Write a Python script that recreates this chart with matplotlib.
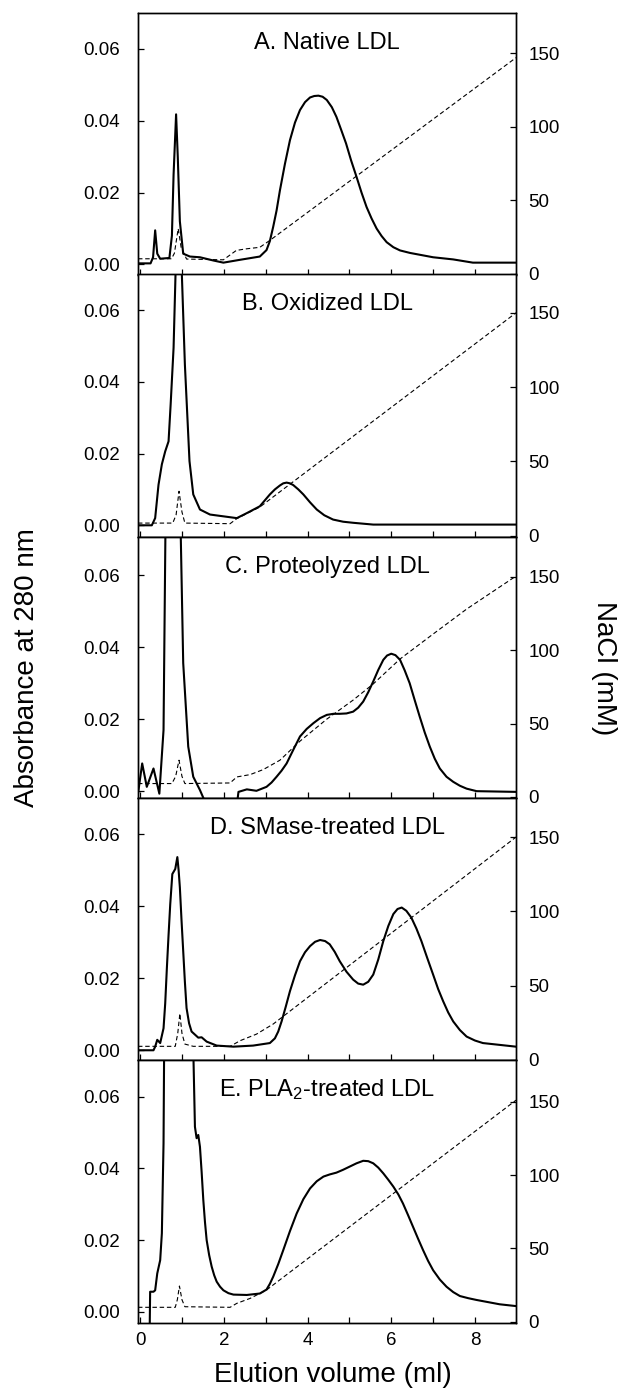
import matplotlib

matplotlib.use("Agg")
import matplotlib.pyplot as plt
from matplotlib.ticker import MultipleLocator

plt.rcParams["font.family"] = ["Liberation Sans", "DejaVu Sans"]
plt.rcParams["mathtext.fontset"] = "custom"
plt.rcParams["mathtext.rm"] = "Liberation Sans"
plt.rcParams["mathtext.it"] = "Liberation Sans:italic"

# ---- data (elution volume in ml) ----
TITLES = ["A. Native LDL", "B. Oxidized LDL", "C. Proteolyzed LDL",
          "D. SMase-treated LDL", "E. PLA$_2$-treated LDL"]

# A. native
A_X = [-0.05, 0.25, 0.31, 0.36, 0.41, 0.48, 0.70, 0.76, 0.80, 0.86, 0.90, 0.95,
       1.03, 1.19, 1.43, 1.75, 1.99, 2.39, 2.86, 3.02, 3.10, 3.18, 3.26, 3.34,
       3.46, 3.58, 3.70, 3.82, 3.94, 4.06, 4.16, 4.26, 4.36, 4.46, 4.58, 4.69,
       4.80, 4.92, 5.04, 5.17, 5.29, 5.41, 5.53, 5.65, 5.77, 5.89, 6.05, 6.21,
       6.45, 6.68, 7.0, 7.48, 7.95, 8.98]
A_ABS = [0.0003, 0.0003, 0.002, 0.0095, 0.003, 0.0016, 0.0018, 0.008, 0.025,
         0.0418, 0.030, 0.012, 0.003, 0.0022, 0.002, 0.0011, 0.0005, 0.0013,
         0.0022, 0.004, 0.0065, 0.0105, 0.015, 0.0206, 0.028, 0.0346, 0.0395,
         0.043, 0.0452, 0.0465, 0.0469, 0.047, 0.0467, 0.0458, 0.0438, 0.0411,
         0.0376, 0.0337, 0.029, 0.0244, 0.020, 0.016, 0.0128, 0.010, 0.0079,
         0.0062, 0.0048, 0.0039, 0.0032, 0.0027, 0.002, 0.0014, 0.0005, 0.0005]
A_SX = [-0.05, 0.75, 0.82, 0.91, 0.98, 1.11, 1.99, 2.3, 2.55, 2.86, 3.1, 8.98]
A_NACL = [10.2, 10.2, 14, 30.7, 18, 10, 9.5, 15.9, 17, 18, 22.7, 147]

# B. oxidized
B_X = [-0.05, 0.28, 0.36, 0.44, 0.52, 0.60, 0.68, 0.73, 0.80, 0.86, 0.98, 1.07,
       1.18, 1.27, 1.43, 1.67, 1.99, 2.31, 2.55, 2.86, 3.1, 3.22, 3.34, 3.42,
       3.5, 3.58, 3.66, 3.78, 3.9, 4.06, 4.22, 4.4, 4.61, 4.85, 5.09, 5.57,
       8.98]
B_ABS = [0.0, 0.0, 0.002, 0.0113, 0.017, 0.0206, 0.0234, 0.0337, 0.0495, 0.076,
         0.076, 0.0448, 0.0179, 0.0086, 0.0044, 0.003, 0.0025, 0.002, 0.0034,
         0.0053, 0.0086, 0.0100, 0.0111, 0.0117, 0.0119, 0.0117, 0.0112,
         0.0100, 0.0086, 0.0064, 0.0044, 0.0028, 0.0016, 0.001, 0.0007, 0.0002,
         0.0002]
B_SX = [-0.05, 0.78, 0.86, 0.93, 1.0, 1.07, 2.15, 2.31, 2.86, 8.98]
B_NACL = [8.5, 8.5, 14, 29.9, 16, 8.5, 8.1, 11.5, 19.3, 150]

# C. proteolyzed
C_X = [-0.05, 0.05, 0.16, 0.32, 0.46, 0.56, 0.62, 0.78, 0.94, 1.03, 1.15, 1.27,
       1.43, 1.59, 2.31, 2.35, 2.55, 2.78, 3.02, 3.14, 3.26, 3.38, 3.5, 3.66,
       3.82, 3.98, 4.14, 4.30, 4.46, 4.62, 4.77, 4.93, 5.09, 5.21, 5.33, 5.45,
       5.57, 5.69, 5.81, 5.9, 6.0, 6.1, 6.21, 6.32, 6.44, 6.56, 6.68, 6.80,
       6.92, 7.04, 7.16, 7.32, 7.48, 7.64, 7.8, 8.04, 8.98]
C_ABS = [-0.0007, 0.0077, 0.0012, 0.0063, -0.0007, 0.017, 0.09, 0.12, 0.09,
         0.0356, 0.0124, 0.004, 0.0003, -0.004, -0.004, -0.0002, 0.0005, 0.0001,
         0.0012, 0.0024, 0.004, 0.0057, 0.0077, 0.0115, 0.0152, 0.0173, 0.0189,
         0.0203, 0.0212, 0.0215, 0.0215, 0.0216, 0.0221, 0.0232, 0.0249, 0.0275,
         0.0305, 0.0337, 0.0365, 0.0377, 0.0382, 0.0378, 0.0365, 0.0336, 0.030,
         0.0253, 0.0207, 0.0163, 0.0124, 0.0090, 0.0063, 0.0040, 0.0026,
         0.0015, 0.0007, 0.0, -0.0002]
C_SX = [-0.05, 0.76, 0.85, 0.93, 1.0, 1.07, 2.15, 2.31, 2.63, 2.94, 3.34, 3.82,
        4.46, 5.09, 5.57, 6.21, 7.0, 7.8, 8.98]
C_NACL = [9.1, 9.1, 14, 25, 14, 9.1, 9.5, 13.6, 15.2, 18.6, 25, 38, 53, 66, 77,
          94, 111, 128, 150.5]

# D. SMase-treated
D_X = [-0.05, 0.32, 0.36, 0.41, 0.48, 0.56, 0.60, 0.64, 0.68, 0.72, 0.77, 0.84,
       0.89, 0.92, 0.95, 0.99, 1.03, 1.07, 1.11, 1.17, 1.23, 1.39, 1.47, 1.59,
       1.83, 2.23, 2.7, 3.1, 3.22, 3.30, 3.38, 3.48, 3.58, 3.70, 3.82, 3.94,
       4.06, 4.18, 4.3, 4.42, 4.53, 4.65, 4.77, 4.93, 5.09, 5.21, 5.33, 5.45,
       5.57, 5.69, 5.81, 5.93, 6.05, 6.15, 6.25, 6.36, 6.48, 6.60, 6.72, 6.86,
       7.0, 7.12, 7.24, 7.36, 7.48, 7.64, 7.8, 8.0, 8.19, 8.98]
D_ABS = [0.0, 0.0, 0.001, 0.0029, 0.002, 0.0061, 0.013, 0.0229, 0.032, 0.0405,
         0.0489, 0.0503, 0.0536, 0.050, 0.0452, 0.036, 0.0275, 0.019, 0.0117,
         0.0075, 0.0052, 0.0035, 0.0036, 0.0024, 0.0013, 0.001, 0.0013, 0.002,
         0.0033, 0.0052, 0.008, 0.0121, 0.0164, 0.0208, 0.0247, 0.0272, 0.0289,
         0.0301, 0.0306, 0.0303, 0.0294, 0.0273, 0.0247, 0.0218, 0.0196,
         0.0185, 0.0182, 0.0190, 0.021, 0.0252, 0.0303, 0.0345, 0.0378, 0.0392,
         0.0396, 0.0387, 0.0368, 0.0338, 0.0303, 0.0256, 0.021, 0.0170, 0.0136,
         0.0105, 0.008, 0.0056, 0.0038, 0.0027, 0.002, 0.001]
D_SX = [-0.05, 0.84, 0.9, 0.95, 1.0, 1.07, 1.27, 2.15, 2.39, 2.78, 3.18, 8.98]
D_NACL = [9.2, 9.2, 18, 31.3, 18, 10.7, 9.2, 9.2, 13, 17.4, 24.2, 150]

# E. PLA2-treated
E_X = [-0.05, 0.23, 0.24, 0.32, 0.36, 0.41, 0.48, 0.52, 0.56, 0.60, 0.90, 1.24,
       1.31, 1.35, 1.39, 1.43, 1.47, 1.51, 1.55, 1.59, 1.65, 1.71, 1.77, 1.83,
       1.91, 1.99, 2.11, 2.23, 2.55, 2.86, 3.02, 3.10, 3.18, 3.30, 3.42, 3.58,
       3.74, 3.90, 4.06, 4.22, 4.38, 4.53, 4.69, 4.85, 5.01, 5.17, 5.33, 5.45,
       5.57, 5.69, 5.81, 5.93, 6.05, 6.17, 6.28, 6.40, 6.52, 6.64, 6.76, 6.88,
       7.0, 7.16, 7.32, 7.48, 7.64, 7.84, 8.04, 8.59, 8.98]
E_ABS = [-0.004, -0.004, 0.0056, 0.0056, 0.006, 0.0107, 0.0144, 0.0219, 0.047,
         0.12, 0.2, 0.09, 0.0516, 0.0484, 0.0493, 0.046, 0.039, 0.0312, 0.025,
         0.020, 0.0158, 0.0126, 0.0102, 0.0084, 0.0070, 0.006, 0.0052, 0.0048,
         0.0047, 0.0051, 0.0062, 0.0078, 0.0098, 0.0133, 0.0172, 0.0225,
         0.0274, 0.0314, 0.0344, 0.0364, 0.0377, 0.0383, 0.0388, 0.0396,
         0.0405, 0.0414, 0.0421, 0.0420, 0.0414, 0.0402, 0.0386, 0.0368,
         0.0349, 0.0327, 0.0302, 0.0270, 0.0237, 0.0204, 0.0172, 0.0142,
         0.0116, 0.0090, 0.007, 0.0055, 0.0044, 0.0038, 0.0033, 0.0021, 0.0016]
E_SX = [-0.05, 0.84, 0.89, 0.94, 1.0, 1.07, 2.15, 2.31, 2.63, 3.02, 8.98]
E_NACL = [9.8, 9.8, 15, 24.3, 15, 10.2, 9.8, 12.5, 15.9, 21.6, 151]

PANELS = [(A_X, A_ABS, A_SX, A_NACL), (B_X, B_ABS, B_SX, B_NACL),
          (C_X, C_ABS, C_SX, C_NACL), (D_X, D_ABS, D_SX, D_NACL),
          (E_X, E_ABS, E_SX, E_NACL)]

# ---- layout (pixels of the 626x1388 figure) ----
W, H = 626, 1388
LEFT, RIGHT = 138, 516
TOPS = [12.7, 274.5, 537.5, 798, 1060]
BOTS = [274.5, 537.5, 798, 1060, 1323.3]
ABS_LIM = [(-0.0028, 0.0701), (-0.0034, 0.0699), (-0.0019, 0.0705),
           (-0.0027, 0.0700), (-0.0032, 0.0702)]
NACL_LIM = [(-0.5, 177.6), (-1.2, 175.8), (-0.75, 176.8), (0.7, 176.3),
            (-1.1, 178.4)]


def main():
    fig = plt.figure(figsize=(W / 100, H / 100), dpi=100)
    for i, (x, a, sx, s) in enumerate(PANELS):
        t, b = TOPS[i], BOTS[i]
        ax = fig.add_axes([LEFT / W, 1 - b / H, (RIGHT - LEFT) / W, (b - t) / H])
        ax2 = ax.twinx()

        ax.plot(x, a, color="black", linewidth=1.5, solid_joinstyle="round")
        ax2.plot(sx, s, color="black", linewidth=0.8, linestyle=(0, (4, 2.5)))

        ax.set_xlim(-0.05, 8.98)
        ax.set_ylim(*ABS_LIM[i])
        ax2.set_ylim(*NACL_LIM[i])
        ax.set_yticks([0.0, 0.02, 0.04, 0.06])
        ax.set_yticklabels(["0.00", "0.02", "0.04", "0.06"])
        ax2.set_yticks([0, 50, 100, 150])
        ax.xaxis.set_major_locator(MultipleLocator(2))
        ax.xaxis.set_minor_locator(MultipleLocator(1))

        ax.tick_params(axis="y", direction="in", length=4, width=0.9,
                       labelsize=13.5, pad=13)
        ax.tick_params(axis="x", which="both", direction="in", length=4,
                       width=0.9, labelsize=13.5, pad=6)
        ax2.tick_params(axis="y", direction="in", length=4, width=0.9,
                        labelsize=13.5, pad=9)
        if i < 4:
            ax.tick_params(axis="x", labelbottom=False)
        for sp in list(ax.spines.values()) + list(ax2.spines.values()):
            sp.set_linewidth(1.0)

        ax.text(0.5, 1 - 30 / (b - t), TITLES[i], transform=ax.transAxes,
                ha="center", va="center", fontsize=17)

    fig.text(27 / W, 1 - 668 / H, "Absorbance at 280 nm", rotation=90,
             ha="center", va="center", fontsize=20)
    fig.text(604 / W, 1 - 668 / H, "NaCl (mM)", rotation=270,
             ha="center", va="center", fontsize=20)
    fig.text(333 / W, 1 - 1375 / H, "Elution volume (ml)",
             ha="center", va="center", fontsize=20)

    fig.savefig("out.png", dpi=100)
    plt.close(fig)


if __name__ == "__main__":
    main()
